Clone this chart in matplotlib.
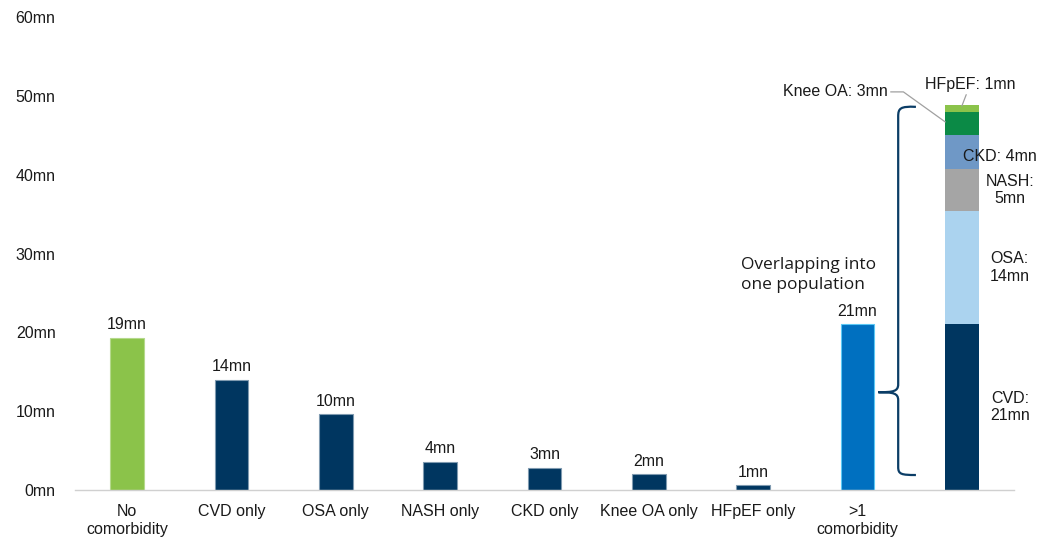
import matplotlib
matplotlib.use("Agg")
import matplotlib.pyplot as plt
from matplotlib.path import Path
from matplotlib.patches import PathPatch

plt.rcParams['font.family'] = ['Liberation Sans', 'DejaVu Sans']

# Single-bar categories (millions of people)
categories = ["No\ncomorbidity", "CVD only", "OSA only", "NASH only", "CKD only",
              "Knee OA only", "HFpEF only", ">1\ncomorbidity"]
values = [19.3, 14.0, 9.6, 3.6, 2.8, 2.0, 0.6, 21.0]
bar_colors = ["#8BC34A", "#003660", "#003660", "#003660", "#003660",
              "#003660", "#003660", "#0070C0"]
bar_edges = ["#B5D98C", "#7F9AB0", "#7F9AB0", "#7F9AB0", "#7F9AB0",
             "#7F9AB0", "#7F9AB0", "#5BC8F5"]

# Stacked breakdown of the >1 comorbidity population
stack_names = ["CVD", "OSA", "NASH", "CKD", "Knee OA", "HFpEF"]
stack_values = [21.0, 14.4, 5.3, 4.3, 2.9, 1.0]
stack_colors = ["#003660", "#ABD3EF", "#A5A5A5", "#6F98C6", "#0B8A46", "#8BC34A"]

yticks = [0, 10, 20, 30, 40, 50, 60]

FS = 11.5
TXT = "#1a1a1a"

fig = plt.figure(figsize=(10.54, 5.4), dpi=100)
ax = fig.add_axes([75 / 1054, 1 - 490 / 540, (1014 - 75) / 1054, (490 - 17) / 540])

bar_w = 0.32
x = list(range(len(categories)))
ax.bar(x, values, width=bar_w, color=bar_colors, edgecolor=bar_edges, linewidth=0.8, zorder=2)
for xi, v in zip(x, values):
    ax.annotate(f"{v:.0f}mn", (xi, v), xytext=(0, 4), textcoords="offset points",
                ha="center", va="bottom", fontsize=FS, color=TXT)

# Stacked bar
xs = len(categories)
bottom = 0.0
seg_bounds = []
for name, v, c in zip(stack_names, stack_values, stack_colors):
    ax.bar(xs, v, bottom=bottom, width=bar_w, color=c, linewidth=0, zorder=2)
    seg_bounds.append((bottom, bottom + v))
    bottom += v

# Segment labels to the right of the stacked bar
lab_x = xs + 0.46
for i in (0, 1, 2):
    lo, hi = seg_bounds[i]
    ax.text(lab_x, (lo + hi) / 2, f"{stack_names[i]}:\n{stack_values[i]:.0f}mn",
            ha="center", va="center", fontsize=FS, color=TXT, linespacing=1.2)
lo, hi = seg_bounds[3]
ax.text(xs + 0.36, (lo + hi) / 2 - 0.5, f"{stack_names[3]}: {stack_values[3]:.0f}mn",
        ha="center", va="center", fontsize=FS, color=TXT)

# HFpEF leader label
lo, hi = seg_bounds[5]
ax.annotate(f"{stack_names[5]}: {stack_values[5]:.0f}mn", xy=(xs, hi - 0.2),
            xytext=(xs + 0.08, 50.5), ha="center", va="bottom", fontsize=FS,
            color=TXT,
            arrowprops=dict(arrowstyle="-", color="#A0A0A0", lw=0.9,
                            shrinkA=0, shrinkB=0))

# Knee OA leader label with elbow
lo, hi = seg_bounds[4]
knee_y = 50.5
ax.plot([xs - 0.68, xs - 0.56, xs - bar_w / 2], [knee_y, knee_y, hi - 1.2],
        color="#A0A0A0", lw=0.9, zorder=3, clip_on=False)
ax.text(xs - 0.71, knee_y, f"{stack_names[4]}: {stack_values[4]:.0f}mn",
        ha="right", va="center", fontsize=FS, color=TXT)

# Curly brace joining the two bars
bx, tipx, endx = 7.39, 7.20, 7.56
ytop, ybot, ytip = 48.6, 1.9, 12.4
verts = [
    (endx, ytop), (bx + 0.02, ytop + 0.1), (bx, ytop - 0.2), (bx, ytop - 1.2),
    (bx, ytip + 1.0),
    (bx, ytip + 0.1), (bx - 0.05, ytip), (tipx, ytip),
    (bx - 0.05, ytip), (bx, ytip - 0.1), (bx, ytip - 1.0),
    (bx, ybot + 1.0),
    (bx, ybot + 0.1), (bx + 0.03, ybot), (endx, ybot),
]
codes = [Path.MOVETO, Path.CURVE4, Path.CURVE4, Path.CURVE4,
         Path.LINETO,
         Path.CURVE4, Path.CURVE4, Path.CURVE4,
         Path.CURVE4, Path.CURVE4, Path.CURVE4,
         Path.LINETO,
         Path.CURVE4, Path.CURVE4, Path.CURVE4]
ax.add_patch(PathPatch(Path(verts, codes), fill=False, edgecolor="#0B3D66", lw=1.6, zorder=3))

ax.text(5.88, 27.3, "Overlapping into\none population", ha="left", va="center",
        fontsize=12.5, color=TXT, family=["Open Sans", "DejaVu Sans"], linespacing=1.35)

ax.set_xlim(-0.5, 8.5)
ax.set_ylim(0, 60)
ax.set_xticks(x)
ax.set_xticklabels(categories, fontsize=FS, color=TXT, linespacing=1.3)
ax.set_yticks(yticks)
ax.set_yticklabels([f"{t}mn" for t in yticks], fontsize=FS, color=TXT)
ax.tick_params(axis="both", length=0)
ax.tick_params(axis="y", pad=14)
ax.tick_params(axis="x", pad=10)
for s in ("left", "right", "top"):
    ax.spines[s].set_visible(False)
ax.spines["bottom"].set_color("#D0D0D0")
ax.spines["bottom"].set_linewidth(1.0)

fig.savefig("out.png", dpi=100)
